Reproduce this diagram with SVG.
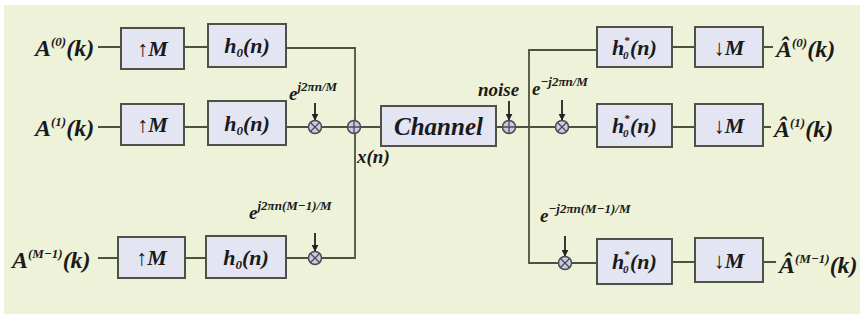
<svg xmlns="http://www.w3.org/2000/svg" width="865" height="320" viewBox="0 0 865 320">
<defs>
<marker id="ah" viewBox="0 0 10 10" refX="9" refY="5" markerWidth="7" markerHeight="7" orient="auto" markerUnits="userSpaceOnUse">
<path d="M0,0 L10,5 L0,10 z" fill="#222"/>
</marker>
<g id="mul"><circle r="6.5" fill="#c9cbe0" stroke="#4a4a55" stroke-width="1.5"/><path d="M-4.3,-4.3 L4.3,4.3 M-4.3,4.3 L4.3,-4.3" stroke="#4a4a55" stroke-width="1.3"/></g>
<g id="add"><circle r="6.5" fill="#c9cbe0" stroke="#4a4a55" stroke-width="1.5"/><path d="M-6.5,0 L6.5,0 M0,-6.5 L0,6.5" stroke="#4a4a55" stroke-width="1.3"/></g>
</defs>
<style>
.bg{fill:#eef2d8}
.box{fill:#e3e5f3;stroke:#4f5148;stroke-width:2}
.w{fill:none;stroke:#4d5240;stroke-width:1.8}
.ar{fill:none;stroke:#222;stroke-width:1.8}
.t{font-family:"Liberation Serif",serif;font-weight:bold;font-style:italic;fill:#1a1a1a}
.lg{font-size:24px}
.md{font-size:22px}
.sm{font-size:13px}
.xs{font-size:11px}
.lb{font-size:19px}
</style>
<rect class="bg" x="4" y="5" width="856" height="309"/>

<g id="connectors">
<path class="w" d="M98,47 H121 M184,47 H208 M286,48 H355 V258 H321"/>
<path class="w" d="M98,127 H121 M184,127 H208 M286,127 H381"/>
<path class="w" d="M98,258 H118 M185,258 H206 M286,258 H309"/>
<path class="w" d="M496,127 H597"/>
<path class="w" d="M597,50 H529 V263 H597"/>
<path class="w" d="M672,47 H695 M763,47 H773"/>
<path class="w" d="M672,127 H695 M763,127 H771"/>
<path class="w" d="M672,262 H695 M763,262 H776"/>
<path class="ar" d="M315,103 V120" marker-end="url(#ah)"/>
<path class="ar" d="M315,233 V251" marker-end="url(#ah)"/>
<path class="ar" d="M509,101 V120" marker-end="url(#ah)"/>
<path class="ar" d="M562,100 V120" marker-end="url(#ah)"/>
<path class="ar" d="M565,236 V256" marker-end="url(#ah)"/>
</g>

<g id="ops">
<use href="#mul" x="315" y="127"/>
<use href="#add" x="354" y="127"/>
<use href="#mul" x="315" y="258"/>
<use href="#add" x="509" y="127"/>
<use href="#mul" x="562" y="127"/>
<use href="#mul" x="565" y="263"/>
</g>

<g id="in0"><text class="t lg" x="35" y="56">A<tspan class="sm" dy="-10">(0)</tspan><tspan dy="10">(k)</tspan></text></g>
<g id="in1"><text class="t lg" x="35" y="136">A<tspan class="sm" dy="-10">(1)</tspan><tspan dy="10">(k)</tspan></text></g>
<g id="in2"><text class="t lg" x="12" y="268">A<tspan class="sm" dy="-10">(M−1)</tspan><tspan dy="10">(k)</tspan></text></g>

<g id="up0"><rect class="box" x="121" y="28" width="63" height="41"/><text class="t md" x="152.5" y="56" text-anchor="middle">↑M</text></g>
<g id="up1"><rect class="box" x="121" y="104" width="63" height="41"/><text class="t md" x="152.5" y="132" text-anchor="middle">↑M</text></g>
<g id="up2"><rect class="box" x="118" y="237" width="67" height="41"/><text class="t md" x="151.5" y="265" text-anchor="middle">↑M</text></g>

<g id="h0a"><rect class="box" x="208" y="24" width="78" height="43"/><text class="t md" x="247" y="53" text-anchor="middle">h<tspan class="sm" dy="4">0</tspan><tspan dy="-4">(n)</tspan></text></g>
<g id="h0b"><rect class="box" x="208" y="101" width="78" height="44"/><text class="t md" x="247" y="131" text-anchor="middle">h<tspan class="sm" dy="4">0</tspan><tspan dy="-4">(n)</tspan></text></g>
<g id="h0c"><rect class="box" x="206" y="236" width="80" height="42"/><text class="t md" x="246" y="265" text-anchor="middle">h<tspan class="sm" dy="4">0</tspan><tspan dy="-4">(n)</tspan></text></g>

<g id="lab1"><text class="t lb" x="289" y="100">e<tspan class="sm" dy="-9">j2πn/M</tspan></text></g>
<g id="lab2"><text class="t lb" x="249" y="219">e<tspan class="sm" dy="-9">j2πn(M−1)/M</tspan></text></g>
<g id="xn"><text class="t lb" x="357" y="163">x(n)</text></g>

<g id="channel"><rect class="box" x="381" y="106" width="115" height="40"/><text class="t" font-size="25" x="438.5" y="135" text-anchor="middle">Channel</text></g>

<g id="noise"><text class="t lb" x="478" y="96">noise</text></g>
<g id="lab3"><text class="t lb" x="532" y="95">e<tspan class="sm" dy="-9">−j2πn/M</tspan></text></g>
<g id="lab4"><text class="t lb" x="540" y="222">e<tspan class="sm" dy="-9">−j2πn(M−1)/M</tspan></text></g>

<g id="hr0"><rect class="box" x="597" y="27" width="75" height="40"/><text class="t md" x="612" y="55">h</text><text class="t xs" x="624" y="44">*</text><text class="t xs" x="623" y="59">0</text><text class="t md" x="630" y="55">(n)</text></g>
<g id="hr1"><rect class="box" x="597" y="104" width="75" height="43"/><text class="t md" x="612" y="133">h</text><text class="t xs" x="624" y="122">*</text><text class="t xs" x="623" y="137">0</text><text class="t md" x="630" y="133">(n)</text></g>
<g id="hr2"><rect class="box" x="597" y="239" width="75" height="45"/><text class="t md" x="612" y="269">h</text><text class="t xs" x="624" y="258">*</text><text class="t xs" x="623" y="273">0</text><text class="t md" x="630" y="269">(n)</text></g>

<g id="dn0"><rect class="box" x="695" y="27" width="68" height="40"/><text class="t md" x="729" y="55" text-anchor="middle">↓M</text></g>
<g id="dn1"><rect class="box" x="695" y="104" width="68" height="42"/><text class="t md" x="729" y="133" text-anchor="middle">↓M</text></g>
<g id="dn2"><rect class="box" x="695" y="238" width="68" height="44"/><text class="t md" x="729" y="268" text-anchor="middle">↓M</text></g>

<g id="out0"><text class="t lg" x="776" y="57">Â<tspan class="sm" dy="-10">(0)</tspan><tspan dy="10">(k)</tspan></text></g>
<g id="out1"><text class="t lg" x="774" y="137">Â<tspan class="sm" dy="-10">(1)</tspan><tspan dy="10">(k)</tspan></text></g>
<g id="out2"><text class="t lg" x="779" y="273">Â<tspan class="sm" dy="-10">(M−1)</tspan><tspan dy="10">(k)</tspan></text></g>
</svg>
